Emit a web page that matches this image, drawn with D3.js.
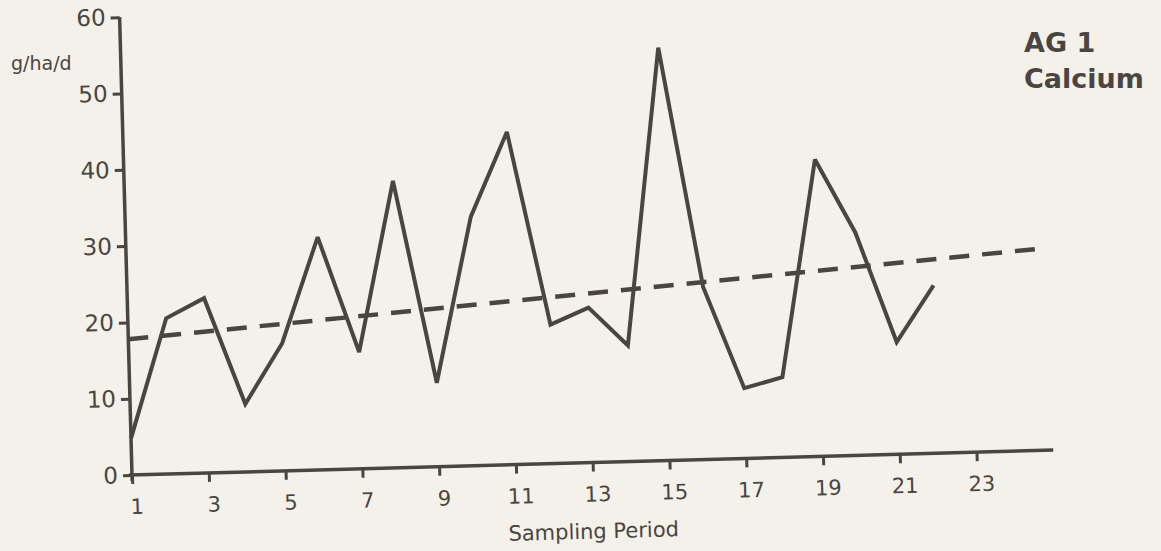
<!DOCTYPE html>
<meta charset="utf-8">
<script src="https://d3js.org/d3.v7.min.js"></script>
<style>
  body { margin: 0; background: #f3f1e9; }
  text { font-family: "DejaVu Sans", sans-serif; fill: #4a4541; }
</style>
<body>
<script>
// sampling periods and calcium deposition (g/ha/d)
var periods = d3.range(1, 23);
var calcium = [4.8, 20.4, 22.9, 8.9, 16.7, 30.5, 15.3, 37.6, 11.0, 32.6, 43.6,
               18.2, 20.3, 15.2, 54.1, 22.6, 9.2, 10.5, 38.9, 29.2, 14.7, 22.0];
// regression (trend) line end points
var trendPeriods = [1, 25];
var trendValues = [17.8, 26.5];
var xTicks = [1, 3, 5, 7, 9, 11, 13, 15, 17, 19, 21, 23];
var yTicks = [0, 10, 20, 30, 40, 50, 60];

var ink = "#4a4541";
var ox = 132, oy = 475;   // chart origin
var tilt = -1.55;          // scanned page is slightly rotated

var svg = d3.select("body").append("svg")
    .attr("width", 1161)
    .attr("height", 551);

svg.append("rect").attr("width", 1161).attr("height", 551).attr("fill", "#f3f1e9");

var x = d3.scaleLinear().domain([1, 25]).range([ox, ox + 921.6]);
var y = d3.scaleLinear().domain([0, 60]).range([oy, oy - 458]);

var g = svg.append("g")
    .attr("transform", "rotate(" + tilt + "," + ox + "," + oy + ")");

// y axis
var yAxis = g.append("g")
    .attr("transform", "translate(" + ox + ",0)")
    .call(d3.axisLeft(y).tickValues(yTicks).tickSize(9).tickSizeOuter(0).tickPadding(5));
yAxis.select(".domain").attr("d", "M0," + y(60) + "V" + (oy + 6))
    .style("stroke", ink).style("stroke-width", 3.5);
yAxis.selectAll(".tick line").style("stroke", ink).style("stroke-width", 3);
yAxis.selectAll(".tick text").style("font-size", "23px").style("font-family", "DejaVu Sans")
    .attr("fill", ink);

// x axis
var xAxis = g.append("g")
    .attr("transform", "translate(0," + oy + ")")
    .call(d3.axisBottom(x).tickValues(xTicks).tickSize(9).tickSizeOuter(0).tickPadding(15));
xAxis.select(".domain").attr("d", "M" + (ox - 3) + ",0H" + x(25))
    .style("stroke", ink).style("stroke-width", 3.5);
xAxis.selectAll(".tick line").style("stroke", ink).style("stroke-width", 3);
xAxis.selectAll(".tick text").style("font-size", "21px").style("font-family", "DejaVu Sans")
    .attr("fill", ink).attr("dx", 4);

// trend line
var trend = trendPeriods.map(function(p, i) { return [p, trendValues[i]]; });
g.append("path")
    .datum(trend)
    .attr("d", d3.line().x(function(d) { return x(d[0]); }).y(function(d) { return y(d[1]); }))
    .style("fill", "none")
    .style("stroke", ink)
    .style("stroke-width", 4.5)
    .style("stroke-dasharray", "20,13");

// calcium series
var series = periods.map(function(p, i) { return [p, calcium[i]]; });
g.append("path")
    .datum(series)
    .attr("d", d3.line().x(function(d) { return x(d[0]); }).y(function(d) { return y(d[1]); }))
    .style("fill", "none")
    .style("stroke", ink)
    .style("stroke-width", 4)
    .style("stroke-linejoin", "miter")
    .style("stroke-miterlimit", 3);

// axis titles
g.append("text")
    .attr("x", 592).attr("y", oy + 76)
    .attr("text-anchor", "middle")
    .style("font-size", "21px")
    .text("Sampling Period");

svg.append("text")
    .attr("x", 11).attr("y", 70)
    .style("font-size", "19px")
    .text("g/ha/d");

// panel title
svg.append("text")
    .attr("x", 1024).attr("y", 52)
    .style("font-size", "27px").style("font-weight", "bold")
    .text("AG 1");
svg.append("text")
    .attr("x", 1024).attr("y", 88)
    .style("font-size", "27px").style("font-weight", "bold")
    .text("Calcium");
</script>
